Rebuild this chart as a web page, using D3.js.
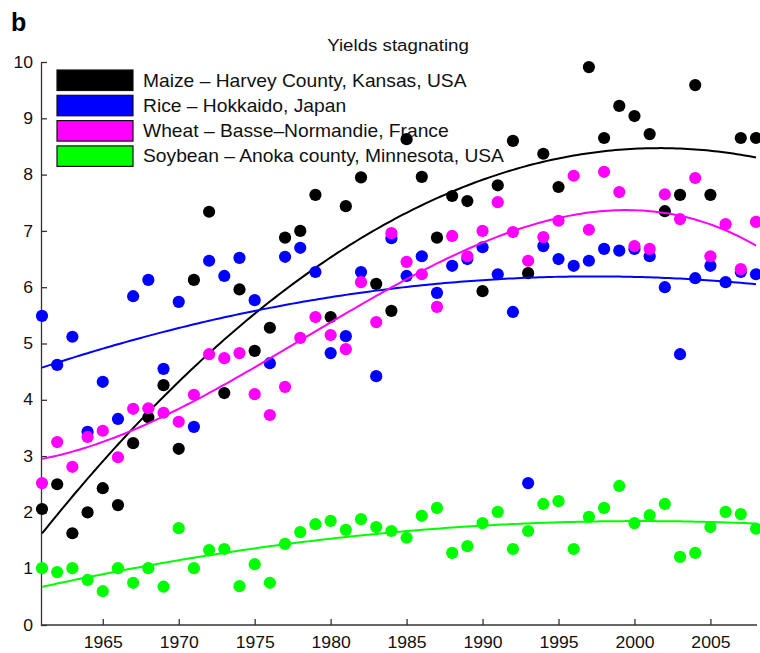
<!DOCTYPE html>
<html>
<head>
<meta charset="utf-8">
<script src="https://cdn.jsdelivr.net/npm/d3@7"></script>
<style>
  html, body { margin: 0; padding: 0; background: #fff; }
  svg { display: block; font-family: "Liberation Sans", Arial, Helvetica, sans-serif; }
</style>
</head>
<body>
<svg id="chart" width="760" height="653"></svg>
<script>
// Crop yields (t/ha) per year, 1961–2008
const years = [1961, 1962, 1963, 1964, 1965, 1966, 1967, 1968, 1969, 1970,
  1971, 1972, 1973, 1974, 1975, 1976, 1977, 1978, 1979, 1980,
  1981, 1982, 1983, 1984, 1985, 1986, 1987, 1988, 1989, 1990,
  1991, 1992, 1993, 1994, 1995, 1996, 1997, 1998, 1999, 2000,
  2001, 2002, 2003, 2004, 2005, 2006, 2007, 2008];

const maize = [2.06, 2.50, 1.63, 2.00, 2.43, 2.13, 3.23, 3.69, 4.26, 3.13,
  6.13, 7.34, 4.12, 5.96, 4.87, 5.28, 6.88, 7.00, 7.64, 5.47,
  7.44, 7.95, 6.06, 5.58, 8.63, 7.96, 6.88, 7.62, 7.53, 5.93,
  7.81, 8.60, 6.25, 8.37, 7.78, null, 9.91, 8.65, 9.22, 9.04,
  8.72, 7.35, 7.64, 9.59, 7.64, null, 8.65, 8.65];

const rice = [5.49, 4.62, 5.12, 3.43, 4.32, 3.66, 5.84, 6.13, 4.55, 5.74,
  3.52, 6.47, 6.20, 6.52, 5.77, 4.65, 6.54, 6.70, 6.27, 4.83,
  5.13, 6.27, 4.42, 6.87, 6.20, 6.55, 5.90, 6.38, 6.50, 6.71,
  6.23, 5.56, 2.52, 6.73, 6.50, 6.38, 6.47, 6.68, 6.65, 6.68,
  6.55, 6.00, 4.81, 6.16, 6.38, 6.09, 6.27, 6.23];

const wheat = [2.52, 3.25, 2.81, 3.34, 3.45, 2.98, 3.84, 3.85, 3.77, 3.61,
  4.09, 4.81, 4.74, 4.83, 4.10, 3.73, 4.23, 5.10, 5.47, 5.15,
  4.90, 6.09, 5.38, 6.96, 6.45, 6.23, 5.65, 6.91, 6.55, 7.00,
  7.51, 6.98, 6.47, 6.89, 7.18, 7.98, 7.02, 8.05, 7.69, 6.73,
  6.68, 7.65, 7.21, 7.94, 6.55, 7.12, 6.32, 7.16];

const soybean = [1.01, 0.94, 1.01, 0.80, 0.60, 1.01, 0.75, 1.01, 0.68, 1.72,
  1.01, 1.33, 1.35, 0.69, 1.08, 0.75, 1.44, 1.65, 1.79, 1.85,
  1.69, 1.88, 1.74, 1.67, 1.55, 1.94, 2.08, 1.28, 1.40, 1.81,
  2.01, 1.35, 1.67, 2.15, 2.20, 1.35, 1.92, 2.08, 2.47, 1.81,
  1.95, 2.15, 1.21, 1.28, 1.74, 2.01, 1.97, 1.71];

const seriesNames = ["Maize \u2013 Harvey County, Kansas, USA",
  "Rice \u2013 Hokkaido, Japan",
  "Wheat \u2013 Basse\u2013Normandie, France",
  "Soybean \u2013 Anoka county, Minnesota, USA"];
const seriesValues = [maize, rice, wheat, soybean];
const seriesColors = ["#000000", "#0000ff", "#ff00ff", "#00ff00"];
const fitDegree = [2, 2, 3, 2];

const xTicks = [1965, 1970, 1975, 1980, 1985, 1990, 1995, 2000, 2005];
const yTicks = [0, 1, 2, 3, 4, 5, 6, 7, 8, 9, 10];

const panelLabel = "b";
const title = "Yields stagnating";

// Least-squares polynomial trend on a centred/scaled year variable
function polyFit(xs, ys, deg) {
  const pts = xs.map((x, i) => [x, ys[i]]).filter(p => p[1] != null);
  const mid = 1984.5, half = 23.5;
  const n = deg + 1;
  const A = Array.from({length: n}, () => new Array(n + 1).fill(0));
  pts.forEach(([x, y]) => {
    const u = (x - mid) / half;
    const pw = [];
    for (let k = 0; k < 2 * n; k++) pw.push(Math.pow(u, k));
    for (let r = 0; r < n; r++) {
      for (let c = 0; c < n; c++) A[r][c] += pw[r + c];
      A[r][n] += y * pw[r];
    }
  });
  for (let i = 0; i < n; i++) {
    let p = i;
    for (let r = i + 1; r < n; r++) if (Math.abs(A[r][i]) > Math.abs(A[p][i])) p = r;
    [A[i], A[p]] = [A[p], A[i]];
    for (let r = 0; r < n; r++) {
      if (r === i) continue;
      const f = A[r][i] / A[i][i];
      for (let c = i; c <= n; c++) A[r][c] -= f * A[i][c];
    }
  }
  const coef = A.map((row, i) => row[n] / row[i]);
  return x => {
    const u = (x - mid) / half;
    return coef.reduce((s, c, k) => s + c * Math.pow(u, k), 0);
  };
}

const svg = d3.select("#chart");
const margin = {left: 42, right: 4, top: 62, bottom: 28};
const W = 760, H = 653;
const TEXT_STRETCH = 1.1;   // slightly wide lettering

const x = d3.scaleLinear().domain([1961, 2008]).range([margin.left, W - margin.right]);
const y = d3.scaleLinear().domain([0, 10]).range([H - margin.bottom, margin.top]);

function wideText(parent, px, py, size, str, anchor) {
  return parent.append("text")
    .attr("transform", `translate(${px},${py}) scale(${TEXT_STRETCH},1)`)
    .attr("font-size", size)
    .attr("text-anchor", anchor || "start")
    .attr("fill", "#111")
    .text(str);
}

// Panel letter and title
svg.append("text").attr("x", 11).attr("y", 31)
  .attr("font-size", 25).attr("font-weight", "bold").text(panelLabel);
wideText(svg, 398, 51, 17, title, "middle");

// Axes
const xAxis = d3.axisBottom(x).tickValues(xTicks).tickFormat(d3.format("d"))
  .tickSizeInner(-6).tickSizeOuter(0).tickPadding(12);
const yAxis = d3.axisLeft(y).tickValues(yTicks)
  .tickSizeInner(-6).tickSizeOuter(0).tickPadding(8);

const gx = svg.append("g").attr("transform", `translate(0,${y(0)})`).call(xAxis);
const gy = svg.append("g").attr("transform", `translate(${x(1961) - 1},0)`).call(yAxis);
[gx, gy].forEach(g => {
  g.selectAll("path, line").attr("stroke", "#333").attr("stroke-width", 1.3);
  g.selectAll("text").attr("font-size", 16).attr("fill", "#111")
    .attr("font-family", "Liberation Sans, Arial, sans-serif");
});
// stretch tick labels about their anchor points
gx.selectAll(".tick text").each(function () {
  const t = d3.select(this);
  const ty = +t.attr("y");
  t.attr("transform", `translate(0,${ty}) scale(${TEXT_STRETCH},1)`).attr("y", 0);
});
gy.selectAll(".tick text").each(function () {
  const t = d3.select(this);
  const tx = +t.attr("x");
  t.attr("transform", `translate(${tx},0) scale(${TEXT_STRETCH},1)`).attr("x", 0);
});
gx.selectAll(".domain").attr("d", `M${x(1961) - 1},0H${x(2008) + 1}`);

// Dots and fitted curves, one series at a time
const plot = svg.append("g");
const curveYears = d3.range(1961, 2008.01, 0.25);
seriesValues.forEach((vals, si) => {
  const g = plot.append("g");
  g.selectAll("circle")
    .data(years.map((yr, i) => ({yr, v: vals[i]})).filter(d => d.v != null))
    .join("circle")
    .attr("cx", d => x(d.yr))
    .attr("cy", d => y(d.v))
    .attr("r", 6.1)
    .attr("fill", seriesColors[si]);
  const f = polyFit(years, vals, fitDegree[si]);
  g.append("path")
    .attr("d", d3.line().x(t => x(t)).y(t => y(f(t)))(curveYears))
    .attr("fill", "none")
    .attr("stroke", seriesColors[si])
    .attr("stroke-width", 2);
});

// Legend
const legend = svg.append("g");
seriesNames.forEach((name, i) => {
  const top = 70 + i * 25.3;
  legend.append("rect").attr("x", 57).attr("y", top)
    .attr("width", 76).attr("height", 20.5)
    .attr("fill", seriesColors[i]).attr("stroke", "#111").attr("stroke-width", 1.2);
  wideText(legend, 143, top + 16.5, 17.5, name);
});
</script>
</body>
</html>
